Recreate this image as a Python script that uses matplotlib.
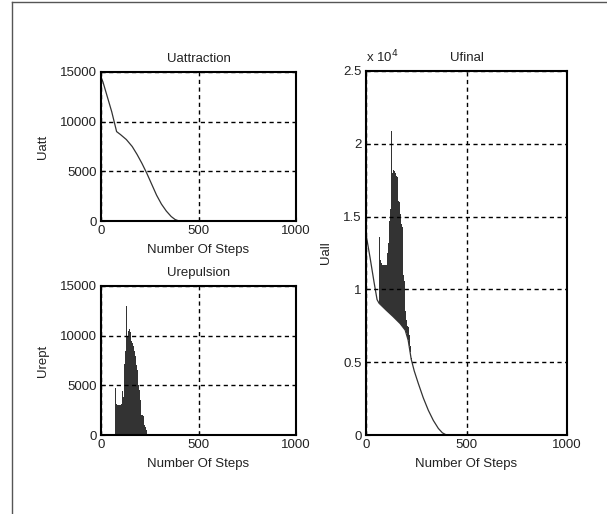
import matplotlib.pyplot as plt
from matplotlib.lines import Line2D
from matplotlib.ticker import FuncFormatter

plt.rcParams['font.family'] = ['Liberation Sans', 'DejaVu Sans']

# attraction potential (line)
att_steps = [0, 10, 25, 40, 55, 70, 80, 100, 130, 160, 185, 210, 235, 260, 285, 310, 335, 360, 380, 400, 1000]
att_vals = [14500, 14000, 13000, 12000, 11000, 9800, 9000, 8700, 8200, 7500, 6700, 5800, 4800,
            3700, 2600, 1700, 1000, 450, 150, 0, 0]

# repulsion potential (dense spikes, envelope every 5 steps)
rep_steps = [70, 75, 80, 85, 90, 95, 100, 105, 110, 115, 120, 125, 130, 135, 140, 145, 150,
             155, 160, 165, 170, 175, 180, 185, 190, 195, 200, 205, 210, 215, 220, 225, 230]
rep_vals = [4700, 3100, 3000, 3000, 3000, 3000, 3000, 3100, 4400, 3800, 7100, 8500, 13000,
            10000, 10500, 10700, 10400, 9500, 9300, 9000, 8500, 8000, 7000, 6500, 5000, 4500,
            3500, 2000, 2000, 1900, 1000, 850, 500]

# total potential: base line + oscillating band
ufin_steps = [0, 20, 40, 55, 65, 100, 135, 170, 195, 210, 225, 240, 260, 285, 310, 335, 360, 380, 400, 1000]
ufin_vals = [13800, 12200, 10500, 9300, 9050, 8580, 8130, 7650, 7200, 6500, 5200, 4400, 3550,
             2550, 1700, 1000, 450, 150, 0, 0]
band_steps = [65, 70, 75, 80, 85, 90, 95, 100, 105, 110, 115, 120, 125, 130, 135, 140, 145,
              150, 155, 160, 165, 170, 175, 180, 185, 190, 195, 200, 205, 210, 215, 220, 225]
band_low = [9050, 9000, 8950, 8880, 8800, 8730, 8650, 8580, 8510, 8440, 8380, 8320, 8250,
            8200, 8130, 8060, 8000, 7930, 7860, 7790, 7720, 7650, 7560, 7470, 7380, 7290,
            7200, 7000, 6750, 6500, 6100, 5700, 5200]
band_high = [13600, 12000, 11780, 11700, 11700, 11700, 11650, 11650, 12500, 13200, 14700,
             15500, 20900, 18000, 18200, 18100, 18000, 17800, 17700, 16100, 16000, 15200,
             14500, 14300, 11000, 10600, 8500, 7900, 7500, 7440, 6900, 6100, 5300]

DARK = '#333333'
TXT = '#222222'
fs = 9.5

fig = plt.figure(figsize=(6.07, 5.14), dpi=100)
# outer frame (left and top only)
fig.add_artist(Line2D([12/607, 12/607], [0, 1 - 2/514], color='#555555', lw=1))
fig.add_artist(Line2D([12/607, 1], [1 - 2/514, 1 - 2/514], color='#555555', lw=1))

ax1 = fig.add_axes([101/607, 1 - 221/514, 195/607, 149/514])
ax2 = fig.add_axes([101/607, 1 - 435/514, 195/607, 149/514])
ax3 = fig.add_axes([366/607, 1 - 435/514, 201/607, 364/514])

ax1.plot(att_steps, att_vals, color=DARK, lw=0.9, clip_on=False)
ax2.bar(rep_steps, rep_vals, width=5, align='edge', color=DARK, linewidth=0)
ax3.plot(ufin_steps, ufin_vals, color=DARK, lw=0.9, clip_on=False)
ax3.bar(band_steps, [h - l for h, l in zip(band_high, band_low)], bottom=band_low,
        width=5, align='edge', color=DARK, linewidth=0)

for ax in (ax1, ax2, ax3):
    ax.set_xlim(0, 1000)
    ax.set_xticks([0, 500, 1000])
    ax.grid(True, color='black', linestyle=(0, (3, 2.5)), linewidth=1)
    ax.set_axisbelow(False)
    ax.tick_params(direction='in', length=3, labelsize=fs, pad=3, labelcolor=TXT)
    for s in ax.spines.values():
        s.set_linewidth(1.5)
    ax.set_xlabel('Number Of Steps', fontsize=fs, labelpad=5, color=TXT)

for ax in (ax1, ax2):
    ax.set_ylim(0, 15000)
    ax.set_yticks([0, 5000, 10000, 15000])

ax3.set_ylim(0, 25000)
ax3.set_yticks([0, 5000, 10000, 15000, 20000, 25000])
ax3.yaxis.set_major_formatter(FuncFormatter(lambda v, p: '%g' % (v / 1e4)))
ax3.text(0, 1.015, r'x 10$^{4}$', transform=ax3.transAxes, fontsize=fs, ha='left',
         va='bottom', color=TXT)

ax1.set_title('Uattraction', fontsize=fs, pad=7, color=TXT)
ax2.set_title('Urepulsion', fontsize=fs, pad=7, color=TXT)
ax3.set_title('Ufinal', fontsize=fs, pad=7, color=TXT)
ax1.set_ylabel('Uatt', fontsize=fs, labelpad=8, color=TXT)
ax2.set_ylabel('Urept', fontsize=fs, labelpad=8, color=TXT)
ax3.set_ylabel('Uall', fontsize=fs, labelpad=8, color=TXT)

plt.savefig('out.png', dpi=100)
